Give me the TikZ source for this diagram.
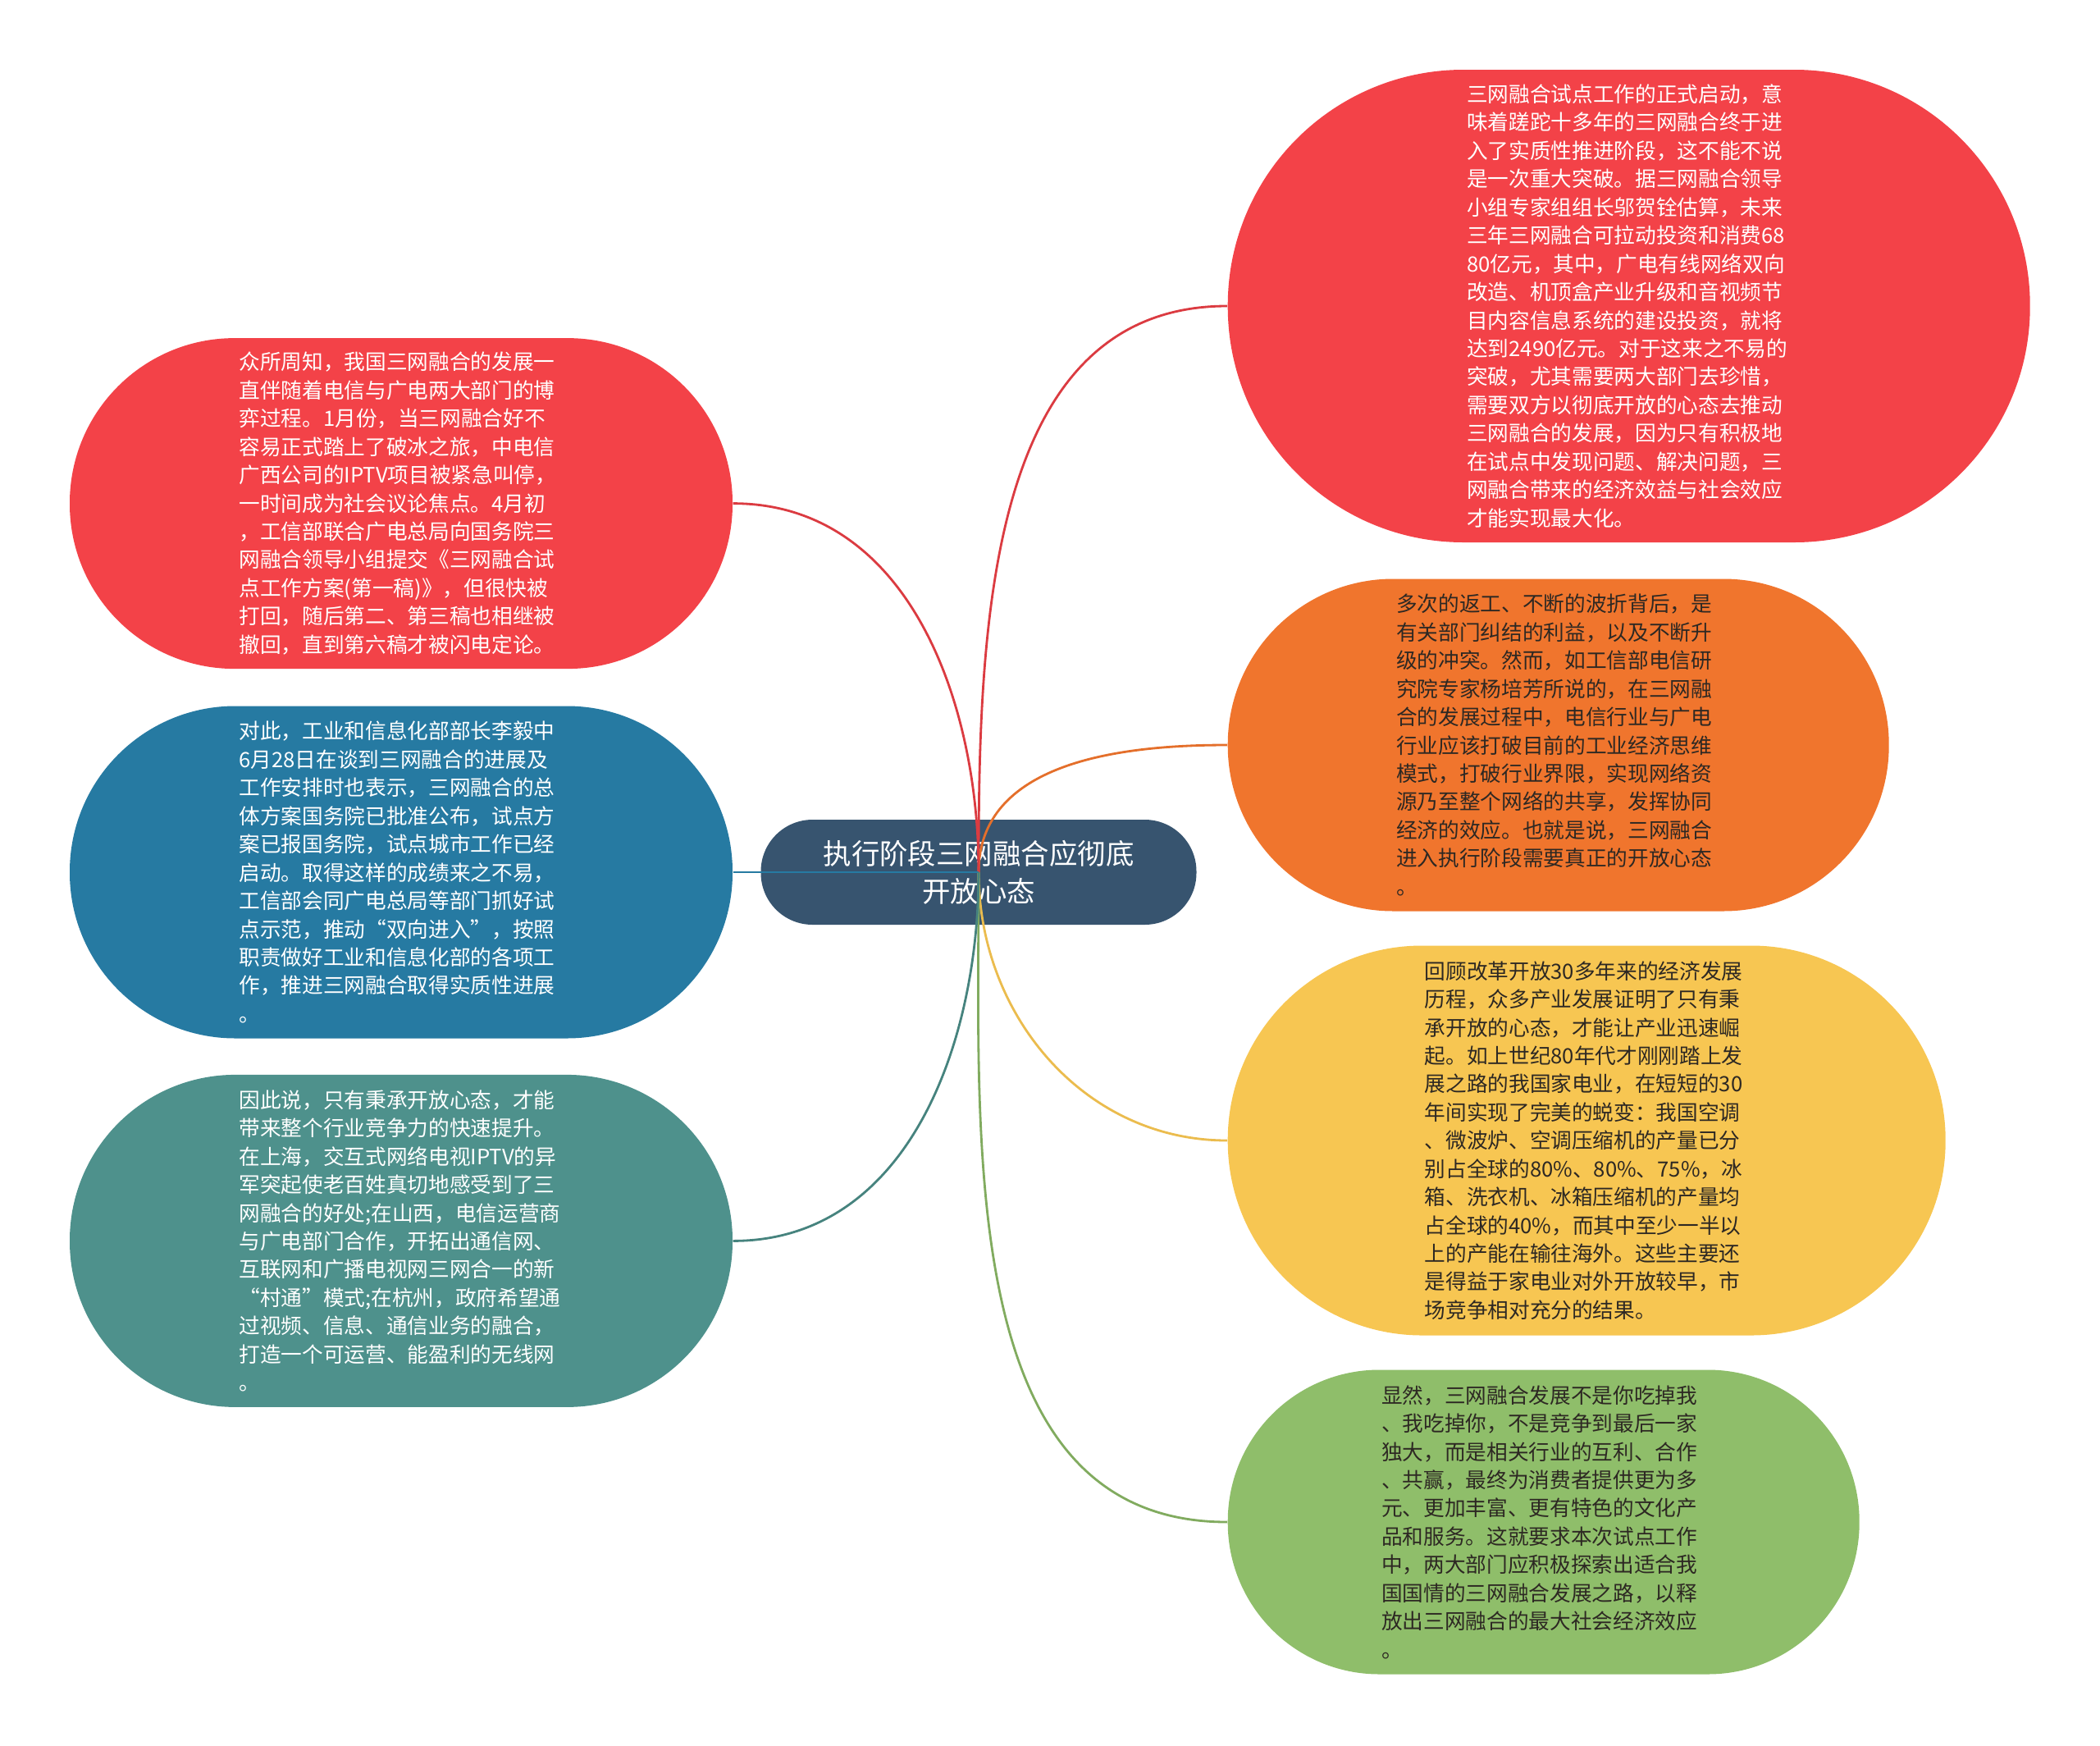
\documentclass[tikz,border=0pt]{standalone}
\usepackage{fontspec}
\newfontfamily\cjk{Noto Sans CJK SC}
\usetikzlibrary{positioning}
\definecolor{hred}{RGB}{243,66,72}
\definecolor{horange}{RGB}{240,117,45}
\definecolor{hyellow}{RGB}{247,198,82}
\definecolor{hgreen}{RGB}{143,190,106}
\definecolor{hblue}{RGB}{38,122,162}
\definecolor{hteal}{RGB}{78,145,140}
\definecolor{hcenter}{RGB}{55,84,111}
\definecolor{hdark}{RGB}{45,40,35}

\begin{document}
\begin{tikzpicture}[every node/.style={inner sep=2pt,font=\cjk\fontsize{7.3}{9.8}\selectfont},
  bubble/.style n args={4}{fill=#1,text=#2,minimum width=#3,minimum height=#4,rounded corners=#4/2-0.2pt,text width=3.95cm,align=left},
  link/.style={line width=0.8pt}]
  \useasboundingbox (0,0) rectangle (25.6,-21.27);
  \node [fill=hcenter,text=white,minimum width=5.31cm,minimum height=1.28cm,rounded corners=0.63cm,align=center,font=\cjk\fontsize{9.8}{13}\selectfont] (0) at (11.93,-10.63) {执行阶段三网融合应彻底\\开放心态};
  \node [bubble={hred}{white}{9.78cm}{5.76cm},anchor=west] (1) at (14.96,-3.73) {三网融合试点工作的正式启动，意\\味着蹉跎十多年的三网融合终于进\\入了实质性推进阶段，这不能不说\\是一次重大突破。据三网融合领导\\小组专家组组长邬贺铨估算，未来\\三年三网融合可拉动投资和消费68\\80亿元，其中，广电有线网络双向\\改造、机顶盒产业升级和音视频节\\目内容信息系统的建设投资，就将\\达到2490亿元。对于这来之不易的\\突破，尤其需要两大部门去珍惜，\\需要双方以彻底开放的心态去推动\\三网融合的发展，因为只有积极地\\在试点中发现问题、解决问题，三\\网融合带来的经济效益与社会效应\\才能实现最大化。};
  \node [bubble={horange}{hdark}{8.06cm}{4.05cm},anchor=west] (2) at (14.96,-9.08) {多次的返工、不断的波折背后，是\\有关部门纠结的利益，以及不断升\\级的冲突。然而，如工信部电信研\\究院专家杨培芳所说的，在三网融\\合的发展过程中，电信行业与广电\\行业应该打破目前的工业经济思维\\模式，打破行业界限，实现网络资\\源乃至整个网络的共享，发挥协同\\经济的效应。也就是说，三网融合\\进入执行阶段需要真正的开放心态\\。};
  \node [bubble={hyellow}{hdark}{8.75cm}{4.75cm},anchor=west] (3) at (14.96,-13.90) {回顾改革开放30多年来的经济发展\\历程，众多产业发展证明了只有秉\\承开放的心态，才能让产业迅速崛\\起。如上世纪80年代才刚刚踏上发\\展之路的我国家电业，在短短的30\\年间实现了完美的蜕变：我国空调\\、微波炉、空调压缩机的产量已分\\别占全球的80\%、80\%、75\%，冰\\箱、洗衣机、冰箱压缩机的产量均\\占全球的40\%，而其中至少一半以\\上的产能在输往海外。这些主要还\\是得益于家电业对外开放较早，市\\场竞争相对充分的结果。};
  \node [bubble={hgreen}{hdark}{7.70cm}{3.71cm},anchor=west] (4) at (14.96,-18.55) {显然，三网融合发展不是你吃掉我\\、我吃掉你，不是竞争到最后一家\\独大，而是相关行业的互利、合作\\、共赢，最终为消费者提供更为多\\元、更加丰富、更有特色的文化产\\品和服务。这就要求本次试点工作\\中，两大部门应积极探索出适合我\\国国情的三网融合发展之路，以释\\放出三网融合的最大社会经济效应\\。};
  \node [bubble={hblue}{white}{8.08cm}{4.05cm}] (6) at (4.89,-10.63) {对此，工业和信息化部部长李毅中\\6月28日在谈到三网融合的进展及\\工作安排时也表示，三网融合的总\\体方案国务院已批准公布，试点方\\案已报国务院，试点城市工作已经\\启动。取得这样的成绩来之不易，\\工信部会同广电总局等部门抓好试\\点示范，推动“双向进入”，按照\\职责做好工业和信息化部的各项工\\作，推进三网融合取得实质性进展\\。};
  \node [bubble={hred}{white}{8.08cm}{4.03cm},above=0.44cm of 6] (5) {众所周知，我国三网融合的发展一\\直伴随着电信与广电两大部门的博\\弈过程。1月份，当三网融合好不\\容易正式踏上了破冰之旅，中电信\\广西公司的IPTV项目被紧急叫停，\\一时间成为社会议论焦点。4月初\\，工信部联合广电总局向国务院三\\网融合领导小组提交《三网融合试\\点工作方案(第一稿)》，但很快被\\打回，随后第二、第三稿也相继被\\撤回，直到第六稿才被闪电定论。};
  \node [bubble={hteal}{white}{8.08cm}{4.05cm},below=0.43cm of 6] (7) {因此说，只有秉承开放心态，才能\\带来整个行业竞争力的快速提升。\\在上海，交互式网络电视IPTV的异\\军突起使老百姓真切地感受到了三\\网融合的好处;在山西，电信运营商\\与广电部门合作，开拓出通信网、\\互联网和广播电视网三网合一的新\\“村通”模式;在杭州，政府希望通\\过视频、信息、通信业务的融合，\\打造一个可运营、能盈利的无线网\\。};
  \draw[link,hred!90!black] (0.center) to[out=90,in=180] (1.west);
  \draw[link,horange!95!black] (0.center) to[out=90,in=180] (2.west);
  \draw[link,hyellow!95!black] (0.center) to[out=-90,in=180] (3.west);
  \draw[link,hgreen!90!black] (0.center) to[out=-90,in=180] (4.west);
  \draw[link,hred!90!black] (0.center) to[out=90,in=0] (5.east);
  \draw[link,hblue] (0.center) -- (6.east);
  \draw[link,hteal!90!black] (0.center) to[out=-90,in=0] (7.east);
\end{tikzpicture}
\end{document}
